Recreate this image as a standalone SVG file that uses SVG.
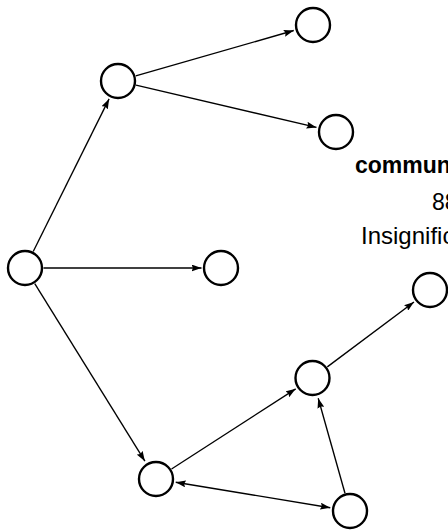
<svg xmlns="http://www.w3.org/2000/svg" width="448" height="531" viewBox="0 0 448 531">
<style>
.node{fill:#fff;stroke:#000;stroke-width:2.4}
.edge{fill:none;stroke:#000;stroke-width:1.35}
.t{font-family:"Liberation Sans",Arial,sans-serif;fill:#000}
</style>
<defs>
<marker id="arr" viewBox="0 0 10 7" refX="10" refY="3.5" markerWidth="10" markerHeight="7" markerUnits="userSpaceOnUse" orient="auto-start-reverse">
<path d="M0,0 L10,3.5 L0,7 L1.5,3.5 Z" fill="#000"/>
</marker>
</defs>
<rect width="448" height="531" fill="#fff"/>
<g id="connectors">
<line class="edge" x1="33.24" y1="251.44" x2="109.09" y2="98.91" marker-end="url(#arr)"/>
<line class="edge" x1="135.78" y1="75.89" x2="293.78" y2="30.52" marker-end="url(#arr)"/>
<line class="edge" x1="136.01" y1="85.21" x2="316.53" y2="127.44" marker-end="url(#arr)"/>
<line class="edge" x1="43.5" y1="268" x2="201.5" y2="268" marker-end="url(#arr)"/>
<line class="edge" x1="34.76" y1="283.72" x2="144.9" y2="461.2" marker-end="url(#arr)"/>
<line class="edge" x1="171.54" y1="468.97" x2="295.7" y2="388.85" marker-end="url(#arr)"/>
<line class="edge" x1="327.31" y1="366.91" x2="413.99" y2="301.99" marker-end="url(#arr)"/>
<line class="edge" x1="344.98" y1="493.2" x2="318.2" y2="398.2" marker-end="url(#arr)"/>
<line class="edge" x1="175.73" y1="482.25" x2="330.27" y2="507.75" marker-start="url(#arr)" marker-end="url(#arr)"/>
</g>
<g id="nA"><circle class="node" cx="313" cy="25" r="17"/></g>
<g id="nB"><circle class="node" cx="118" cy="81" r="17"/></g>
<g id="nC"><circle class="node" cx="336" cy="132" r="17"/></g>
<g id="nD"><circle class="node" cx="25" cy="268" r="17"/></g>
<g id="nE"><circle class="node" cx="221" cy="268" r="17"/></g>
<g id="nF"><circle class="node" cx="430" cy="290" r="17"/></g>
<g id="nG"><circle class="node" cx="312.5" cy="378" r="17"/></g>
<g id="nH"><circle class="node" cx="156" cy="479" r="17"/></g>
<g id="nI"><circle class="node" cx="350" cy="511" r="17"/></g>
<g id="label">
<text class="t" x="355" y="173" font-size="23" font-weight="bold">community</text>
<text class="t" x="432" y="210" font-size="23">88</text>
<text class="t" x="361" y="244" font-size="24">Insignificant</text>
</g>
</svg>
